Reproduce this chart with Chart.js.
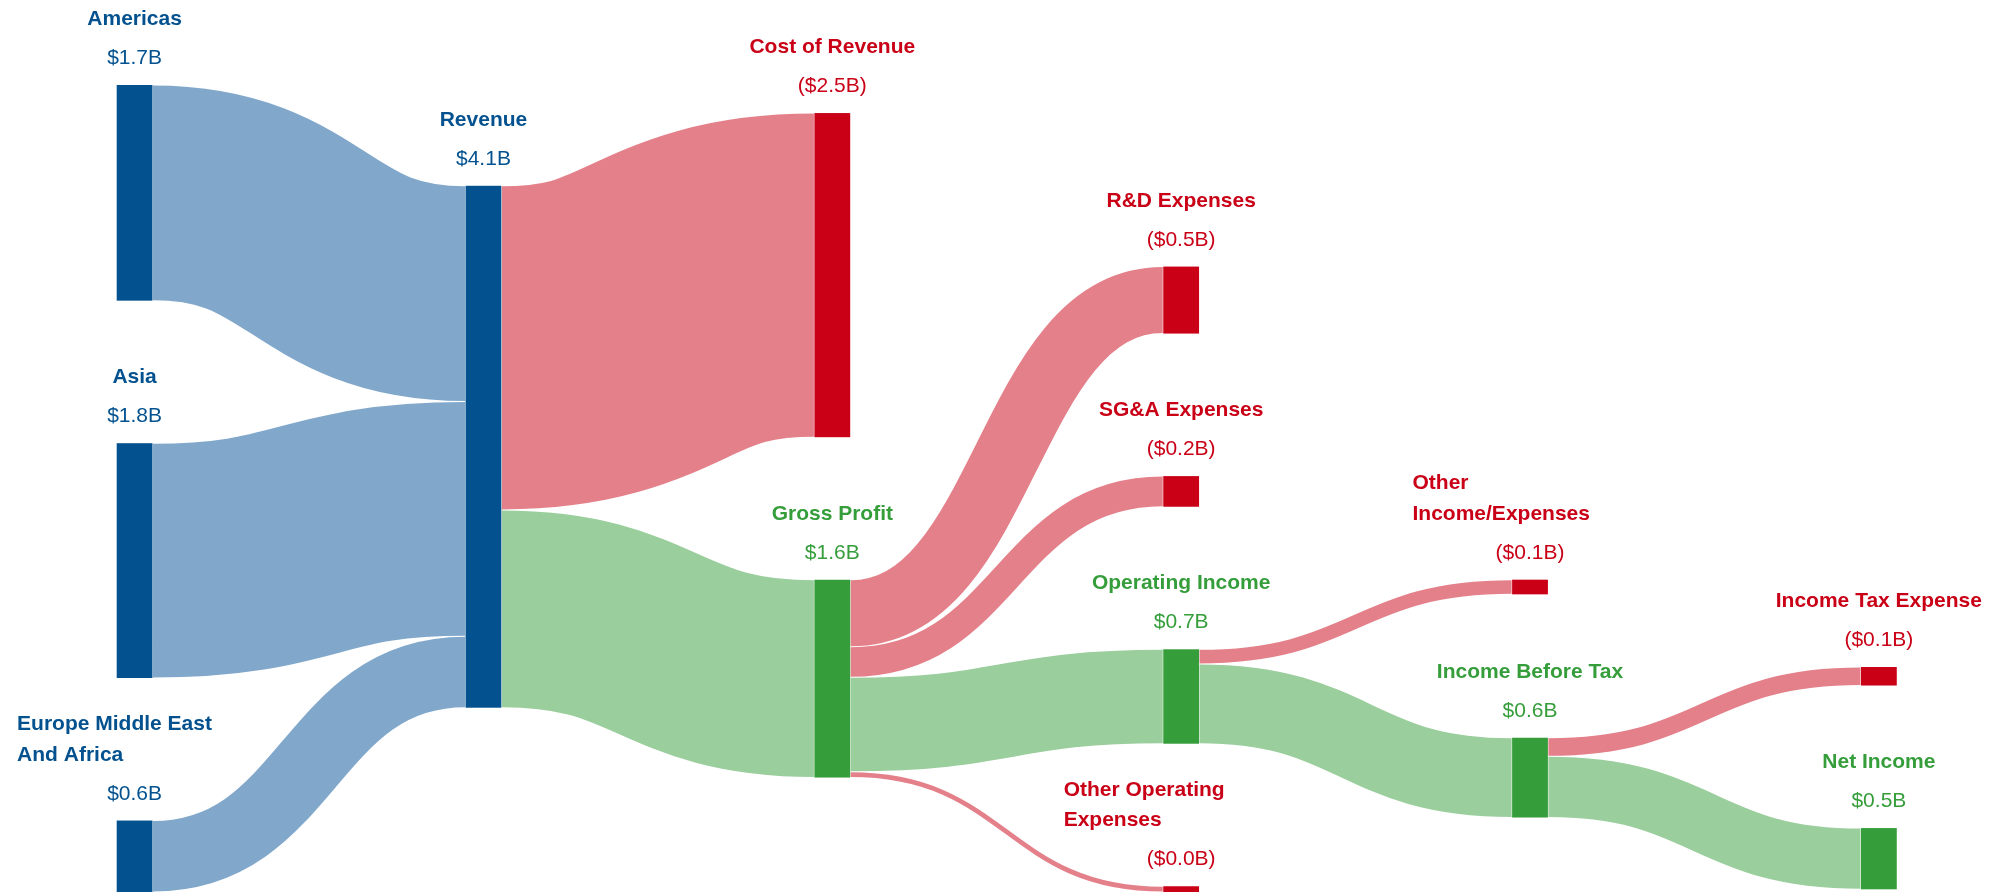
<!DOCTYPE html>
<html>
<head>
<meta charset="utf-8">
<script src="https://cdn.jsdelivr.net/npm/chart.js@4.4.1/dist/chart.umd.min.js"></script>
<style>
  html, body { margin: 0; padding: 0; background: #ffffff; }
  #wrap { width: 2000px; height: 892px; position: relative; }
</style>
</head>
<body>
<div id="wrap"><canvas id="sankey"></canvas></div>
<script>
// ---- data ($B) ----
const nodeNames = [
  'Americas', 'Asia', 'Europe Middle East And Africa', 'Revenue',
  'Cost of Revenue', 'Gross Profit', 'R&D Expenses', 'SG&A Expenses',
  'Operating Income', 'Other Operating Expenses', 'Other Income/Expenses',
  'Income Before Tax', 'Income Tax Expense', 'Net Income'
];
const nodeKinds = [
  'revenue', 'revenue', 'revenue', 'revenue',
  'expense', 'profit', 'expense', 'expense',
  'profit', 'expense', 'expense',
  'profit', 'expense', 'profit'
];
const linkSources = [
  'Americas', 'Asia', 'Europe Middle East And Africa',
  'Revenue', 'Revenue',
  'Gross Profit', 'Gross Profit', 'Gross Profit', 'Gross Profit',
  'Operating Income', 'Operating Income',
  'Income Before Tax', 'Income Before Tax'
];
const linkTargets = [
  'Revenue', 'Revenue', 'Revenue',
  'Cost of Revenue', 'Gross Profit',
  'R&D Expenses', 'SG&A Expenses', 'Operating Income', 'Other Operating Expenses',
  'Other Income/Expenses', 'Income Before Tax',
  'Income Tax Expense', 'Net Income'
];
const linkValues = [
  1.69, 1.84, 0.56,
  2.54, 1.55,
  0.525, 0.24, 0.74, 0.045,
  0.115, 0.625,
  0.145, 0.48
];

// ---- look ----
const nodeColors = { revenue: '#03528f', expense: '#c90016', profit: '#359e3b' };
const linkColors = { revenue: '#81a8cb', expense: '#e4808a', profit: '#9ace9d' };
const NODE_WIDTH = 0.1026;   // in column units
const NODE_GAP = 1.117;      // in $B units
const EXTENT = [0, 6.324];   // vertical layout extent in $B units
const LABEL_MAX_W = 235;
const FONT_FAMILY = '"Liberation Sans", Arial, Helvetica, sans-serif';

// simple port of the d3-sankey layout (left aligned, 6 iterations)
function sankeyLayout(names, kinds, srcs, tgts, vals, py, y0, y1, iterations) {
  const nodes = names.map((name, i) => ({ name, kind: kinds[i], index: i, sourceLinks: [], targetLinks: [] }));
  const byName = new Map(nodes.map(n => [n.name, n]));
  const links = vals.map((value, i) => {
    const l = { source: byName.get(srcs[i]), target: byName.get(tgts[i]), value, index: i };
    l.source.sourceLinks.push(l);
    l.target.targetLinks.push(l);
    return l;
  });
  const sum = (arr) => arr.reduce((s, l) => s + l.value, 0);
  nodes.forEach(n => { n.value = Math.max(sum(n.sourceLinks), sum(n.targetLinks)); });

  let current = new Set(nodes), next = new Set(), x = 0;
  while (current.size) {
    for (const node of current) {
      node.layer = x;
      for (const { target } of node.sourceLinks) next.add(target);
    }
    x++;
    current = next;
    next = new Set();
  }
  const columns = [];
  nodes.forEach(n => { (columns[n.layer] = columns[n.layer] || []).push(n); });

  const ascBreadth = (a, b) => a.y0 - b.y0;
  const ascSource = (a, b) => ascBreadth(a.source, b.source) || a.index - b.index;
  const ascTarget = (a, b) => ascBreadth(a.target, b.target) || a.index - b.index;

  const ky = Math.min(...columns.map(c => (y1 - y0 - (c.length - 1) * py) / c.reduce((s, n) => s + n.value, 0)));
  for (const col of columns) {
    let y = y0;
    for (const node of col) {
      node.y0 = y;
      node.y1 = y + node.value * ky;
      y = node.y1 + py;
      for (const link of node.sourceLinks) link.width = link.value * ky;
    }
    y = (y1 - y + py) / (col.length + 1);
    col.forEach((node, i) => { node.y0 += y * (i + 1); node.y1 += y * (i + 1); });
    for (const { sourceLinks, targetLinks } of col) {
      sourceLinks.sort(ascTarget);
      targetLinks.sort(ascSource);
    }
  }

  function reorderNodeLinks({ sourceLinks, targetLinks }) {
    for (const { source } of targetLinks) source.sourceLinks.sort(ascTarget);
    for (const { target } of sourceLinks) target.targetLinks.sort(ascSource);
  }
  function targetTop(source, target) {
    let y = source.y0 - (source.sourceLinks.length - 1) * py / 2;
    for (const { target: node, width } of source.sourceLinks) {
      if (node === target) break;
      y += width + py;
    }
    for (const { source: node, width } of target.targetLinks) {
      if (node === source) break;
      y -= width;
    }
    return y;
  }
  function sourceTop(source, target) {
    let y = target.y0 - (target.targetLinks.length - 1) * py / 2;
    for (const { source: node, width } of target.targetLinks) {
      if (node === source) break;
      y += width + py;
    }
    for (const { target: node, width } of source.sourceLinks) {
      if (node === target) break;
      y -= width;
    }
    return y;
  }
  function pushDown(col, y, i, alpha) {
    for (; i < col.length; ++i) {
      const node = col[i];
      const dy = (y - node.y0) * alpha;
      if (dy > 1e-6) { node.y0 += dy; node.y1 += dy; }
      y = node.y1 + py;
    }
  }
  function pushUp(col, y, i, alpha) {
    for (; i >= 0; --i) {
      const node = col[i];
      const dy = (node.y1 - y) * alpha;
      if (dy > 1e-6) { node.y0 -= dy; node.y1 -= dy; }
      y = node.y0 - py;
    }
  }
  function resolveCollisions(col, alpha) {
    const i = col.length >> 1;
    const subject = col[i];
    pushUp(col, subject.y0 - py, i - 1, alpha);
    pushDown(col, subject.y1 + py, i + 1, alpha);
    pushUp(col, y1, col.length - 1, alpha);
    pushDown(col, y0, 0, alpha);
  }
  function relaxLeftToRight(alpha, beta) {
    for (let i = 1; i < columns.length; ++i) {
      const col = columns[i];
      for (const target of col) {
        let y = 0, w = 0;
        for (const { source, value } of target.targetLinks) {
          const v = value * (target.layer - source.layer);
          y += targetTop(source, target) * v;
          w += v;
        }
        if (!(w > 0)) continue;
        const dy = (y / w - target.y0) * alpha;
        target.y0 += dy; target.y1 += dy;
        reorderNodeLinks(target);
      }
      col.sort(ascBreadth);
      resolveCollisions(col, beta);
    }
  }
  function relaxRightToLeft(alpha, beta) {
    for (let i = columns.length - 2; i >= 0; --i) {
      const col = columns[i];
      for (const source of col) {
        let y = 0, w = 0;
        for (const { target, value } of source.sourceLinks) {
          const v = value * (target.layer - source.layer);
          y += sourceTop(source, target) * v;
          w += v;
        }
        if (!(w > 0)) continue;
        const dy = (y / w - source.y0) * alpha;
        source.y0 += dy; source.y1 += dy;
        reorderNodeLinks(source);
      }
      col.sort(ascBreadth);
      resolveCollisions(col, beta);
    }
  }
  for (let i = 0; i < iterations; ++i) {
    const alpha = Math.pow(0.99, i);
    const beta = Math.max(1 - alpha, (i + 1) / iterations);
    relaxRightToLeft(alpha, beta);
    relaxLeftToRight(alpha, beta);
  }

  for (const node of nodes) {
    let a = node.y0, b = node.y0;
    for (const link of node.sourceLinks) { link.y0 = a + link.width / 2; a += link.width; }
    for (const link of node.targetLinks) { link.y1 = b + link.width / 2; b += link.width; }
  }
  return { nodes, links };
}

const graph = sankeyLayout(nodeNames, nodeKinds, linkSources, linkTargets, linkValues,
  NODE_GAP, EXTENT[0], EXTENT[1], 6);

function wrapLabel(ctx, text, maxW) {
  if (ctx.measureText(text).width <= maxW) return [text];
  const words = text.split(' ');
  const lines = [];
  let line = '';
  for (const w of words) {
    const test = line ? line + ' ' + w : w;
    if (line && ctx.measureText(test).width > maxW) {
      lines.push(line);
      line = w;
    } else {
      line = test;
    }
  }
  if (line) lines.push(line);
  return lines;
}

const sankeyPlugin = {
  id: 'sankeyDraw',
  afterDatasetsDraw(chart) {
    const ctx = chart.ctx;
    const xs = chart.scales.x;
    const ys = chart.scales.y;
    const px = v => xs.getPixelForValue(v);
    const py = v => ys.getPixelForValue(v);
    ctx.save();

    // links
    ctx.lineCap = 'butt';
    for (const link of graph.links) {
      const x0 = px(link.source.layer + NODE_WIDTH) + 0.5;
      const x1 = px(link.target.layer) - 0.5;
      const ya = py(link.y0);
      const yb = py(link.y1);
      const w = Math.abs(py(link.width) - py(0));
      const xm = (x0 + x1) / 2;
      ctx.beginPath();
      ctx.moveTo(x0, ya);
      ctx.bezierCurveTo(xm, ya, xm, yb, x1, yb);
      ctx.strokeStyle = linkColors[link.target.kind];
      ctx.lineWidth = Math.max(1, w - 1);
      ctx.stroke();
    }

    // nodes
    for (const node of graph.nodes) {
      const left = px(node.layer);
      const right = px(node.layer + NODE_WIDTH);
      const top = py(node.y0);
      const bottom = py(node.y1);
      ctx.fillStyle = nodeColors[node.kind];
      ctx.fillRect(left, top, right - left, bottom - top);
    }

    // labels
    ctx.textBaseline = 'alphabetic';
    for (const node of graph.nodes) {
      const cx = px(node.layer + NODE_WIDTH / 2);
      const top = py(node.y0);
      const valueText = node.kind === 'expense'
        ? '($' + node.value.toFixed(1) + 'B)'
        : '$' + node.value.toFixed(1) + 'B';
      ctx.fillStyle = nodeColors[node.kind];
      ctx.font = '21px ' + FONT_FAMILY;
      ctx.textAlign = 'center';
      const valueBase = top - 21;
      ctx.fillText(valueText, cx, valueBase);

      ctx.font = 'bold 21px ' + FONT_FAMILY;
      const lines = wrapLabel(ctx, node.name, LABEL_MAX_W);
      let base = valueBase - 39 - (lines.length - 1) * 30.7;
      if (lines.length > 1) {
        ctx.textAlign = 'left';
        const lx = cx - LABEL_MAX_W / 2;
        for (const l of lines) { ctx.fillText(l, lx, base); base += 30.7; }
      } else {
        ctx.fillText(lines[0], cx, base);
      }
    }
    ctx.restore();
  }
};

new Chart(document.getElementById('sankey'), {
  type: 'scatter',
  data: {
    datasets: [{
      data: graph.nodes.map(n => ({ x: n.layer, y: (n.y0 + n.y1) / 2 })),
      pointRadius: 0,
      pointHoverRadius: 0
    }]
  },
  options: {
    responsive: true,
    maintainAspectRatio: false,
    animation: false,
    layout: { padding: 0 },
    plugins: { legend: { display: false }, tooltip: { enabled: false } },
    scales: {
      x: { type: 'linear', display: false, min: -0.3345, max: 5.3985 },
      y: { type: 'linear', display: false, reverse: true, min: -0.666, max: 6.324 }
    }
  },
  plugins: [sankeyPlugin]
});
</script>
</body>
</html>
